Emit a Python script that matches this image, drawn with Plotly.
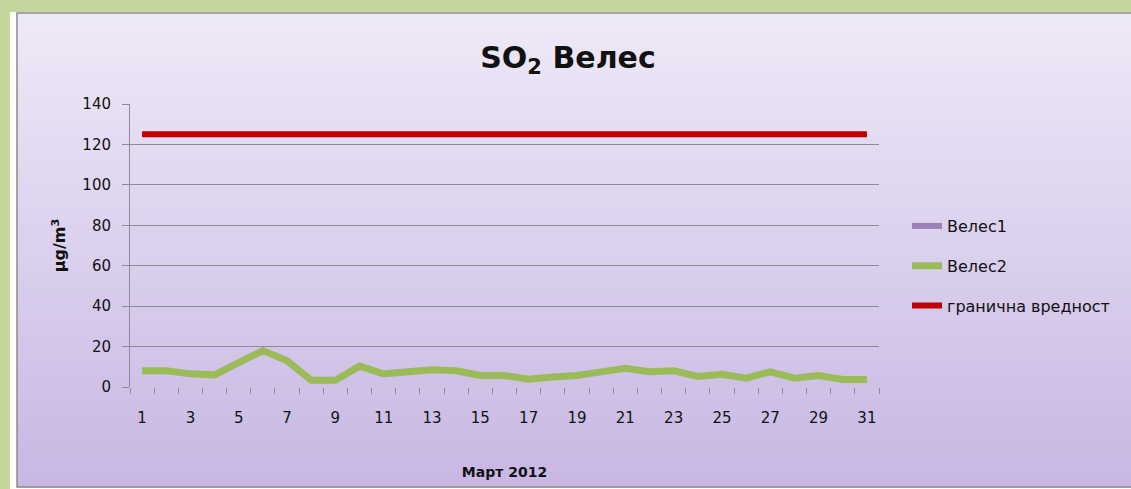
import plotly.graph_objects as go

# ── Data ─────────────────────────────────────────────────────────────────────
days = list(range(1, 32))
veles1 = [None] * 31
veles2 = [8, 8, 6.5, 6, 12, 18, 13, 3.3, 3.3, 10.3, 6.5, 7.5, 8.5, 8, 5.7,
          5.7, 3.8, 4.9, 5.7, 7.5, 9.3, 7.6, 8, 5.2, 6.3, 4.4, 7.5, 4.4, 5.7,
          3.7, 3.7]
limit = [125] * 31
x_ticks = [1, 3, 5, 7, 9, 11, 13, 15, 17, 19, 21, 23, 25, 27, 29, 31]
y_ticks = [0, 20, 40, 60, 80, 100, 120, 140]

# ── Design tokens ────────────────────────────────────────────────────────────
W, H = 1131, 489
L, R, T, B = 130, 879, 104, 387     # plot area in pixels
FONT = "DejaVu Sans, sans-serif"
GREEN_BG = "#c3d69b"
C_V1 = "#9882b8"
C_V2 = "#9bbb59"
C_LIM = "#c00000"
GRID = "#8f8a96"


def px_x(p):
    return (p - L) / (R - L)


def px_y(p):
    return (B - p) / (B - T)


def mix(c1, c2, t):
    a = [int(c1[i:i + 2], 16) for i in (1, 3, 5)]
    b = [int(c2[i:i + 2], 16) for i in (1, 3, 5)]
    return "#" + "".join(f"{round(a[i] + (b[i] - a[i]) * t):02x}" for i in range(3))


fig = go.Figure()

fig.add_trace(go.Scatter(x=days, y=veles1, name="Велес1", mode="lines",
                         line=dict(color=C_V1, width=6), legendgroup="a"))
fig.add_trace(go.Scatter(x=days, y=veles2, name="Велес2", mode="lines",
                         line=dict(color=C_V2, width=7), legendgroup="b"))
fig.add_trace(go.Scatter(x=days, y=limit, name="гранична вредност", mode="lines",
                         line=dict(color=C_LIM, width=6), legendgroup="c"))

# background: white frame + lavender gradient panel
shapes = [dict(type="rect", xref="paper", yref="paper", layer="below",
               x0=px_x(10), x1=px_x(W + 5), y0=px_y(12), y1=px_y(H + 5),
               fillcolor="white", line_width=0)]
top_px, bot_px, n = 13, 487, 60
step = (bot_px - top_px) / n
for i in range(n):
    y0 = top_px + i * step
    shapes.append(dict(type="rect", xref="paper", yref="paper", layer="below",
                       x0=px_x(17), x1=px_x(W + 5), y0=px_y(y0), y1=px_y(y0 + step + 0.6),
                       fillcolor=mix("#eee9f7", "#c8b7e3", i / (n - 1)), line_width=0))
shapes.append(dict(type="rect", xref="paper", yref="paper", layer="below",
                   x0=px_x(17), x1=px_x(W + 5), y0=px_y(top_px), y1=px_y(bot_px),
                   fillcolor="rgba(0,0,0,0)", line=dict(color="#8a8a8a", width=1.5)))

fig.update_layout(
    width=W, height=H,
    paper_bgcolor=GREEN_BG,
    plot_bgcolor="rgba(0,0,0,0)",
    font=dict(family=FONT, size=15, color="#111111"),
    margin=dict(l=L, r=W - R, t=T, b=H - B, pad=0),
    title=dict(text="<b>SO<sub>2</sub> Велес</b>", x=px_x(568), xref="paper",
               xanchor="center", y=1 - 57 / H, yanchor="middle",
               font=dict(size=30, color="#111111")),
    shapes=shapes,
    showlegend=True,
    legend=dict(x=px_x(907), y=px_y(209), xanchor="left", yanchor="top",
                bgcolor="rgba(0,0,0,0)", tracegroupgap=16,
                font=dict(size=16, color="#111111")),
    xaxis=dict(
        range=[0.5, 31.5], tickmode="array", tickvals=x_ticks,
        ticks="", showgrid=False, zeroline=False,
        showline=False, tickfont=dict(size=15), ticklabelstandoff=20,
        minor=dict(ticks="outside", tick0=0.5, dtick=1, ticklen=6,
                   tickcolor=GRID, showgrid=False),
        title=dict(text="<b>Март 2012</b>", font=dict(size=14), standoff=41),
        fixedrange=True,
    ),
    yaxis=dict(
        range=[0, 140], tickmode="array", tickvals=y_ticks,
        ticks="outside", ticklen=7, tickcolor=GRID,
        gridcolor=GRID, gridwidth=1, zeroline=False,
        showline=True, linecolor=GRID, linewidth=1,
        tickfont=dict(size=15), ticklabelstandoff=8,
        title=dict(text="<b>µg/m<sup>3</sup></b>", font=dict(size=16), standoff=12),
        fixedrange=True,
    ),
)

fig.write_html("out.html", config={"displayModeBar": False},
               post_script="document.body.style.margin='0';")
